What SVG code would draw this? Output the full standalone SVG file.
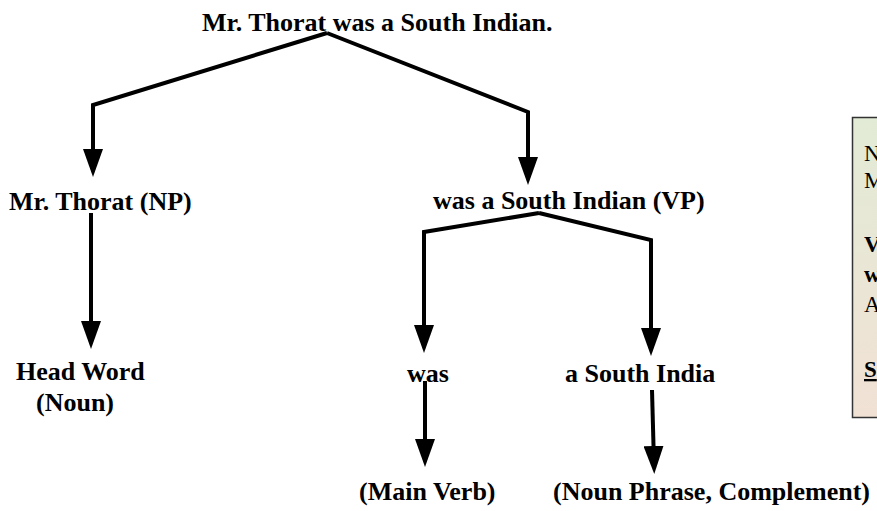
<svg xmlns="http://www.w3.org/2000/svg" width="877" height="511" viewBox="0 0 877 511">
  <style>
    .t { font-family: "Liberation Serif", "Times New Roman", serif; font-weight: bold; font-size: 26px; fill: #000; }
    .c { fill: none; stroke: #000; stroke-width: 4; stroke-linejoin: miter; stroke-linecap: butt; }
    .bx { font-family: "Liberation Serif", "Times New Roman", serif; font-size: 23px; fill: #000; }
  </style>
  <defs>
    <marker id="ah" viewBox="0 0 28 20" refX="18" refY="10" markerWidth="28" markerHeight="20" markerUnits="userSpaceOnUse" orient="auto">
      <path d="M0,0 L28,10 L0,20 Z" fill="#000"/>
    </marker>
    <linearGradient id="bg" x1="0" y1="0" x2="0" y2="1">
      <stop offset="0" stop-color="#e2ebd6"/>
      <stop offset="1" stop-color="#f1e1d5"/>
    </linearGradient>
  </defs>
  <rect width="877" height="511" fill="#fff"/>

  <g id="connectors">
    <path class="c" d="M327,33 L93,105 L93,167" marker-end="url(#ah)"/>
    <path class="c" d="M327,33 L528,112 L528,175" marker-end="url(#ah)"/>
    <path class="c" d="M91,213 L91,339" marker-end="url(#ah)"/>
    <path class="c" d="M539,213 L424,232 L424,343" marker-end="url(#ah)"/>
    <path class="c" d="M539,213 L651,240 L651,346" marker-end="url(#ah)"/>
    <path class="c" d="M425,381 L425,457" marker-end="url(#ah)"/>
    <path class="c" d="M652,390 L654,464" marker-end="url(#ah)"/>
  </g>

  <g id="root"><text class="t" x="202" y="31">Mr. Thorat was a South Indian.</text></g>
  <g id="np"><text class="t" x="9" y="210">Mr. Thorat (NP)</text></g>
  <g id="vp"><text class="t" x="433" y="209">was a South Indian (VP)</text></g>
  <g id="head"><text class="t" x="16" y="380">Head Word</text><text class="t" x="36" y="411">(Noun)</text></g>
  <g id="was"><text class="t" x="407" y="382">was</text></g>
  <g id="india"><text class="t" x="565" y="382">a South India</text></g>
  <g id="mainverb"><text class="t" x="359" y="500">(Main Verb)</text></g>
  <g id="complement"><text class="t" x="553" y="500">(Noun Phrase, Complement)</text></g>

  <g id="legend">
    <rect x="852.5" y="117.5" width="40" height="300" fill="url(#bg)" stroke="#333" stroke-width="1.5"/>
    <text class="bx" x="864" y="161">N</text>
    <text class="bx" x="864" y="188">M</text>
    <text class="bx" x="864" y="252" font-weight="bold">V</text>
    <text class="bx" x="864" y="282" font-weight="bold">w</text>
    <text class="bx" x="864" y="312" font-family="Liberation Sans, Arial, sans-serif">A</text>
    <text class="bx" x="864" y="377" font-weight="bold" text-decoration="underline">S</text>
  </g>
</svg>
